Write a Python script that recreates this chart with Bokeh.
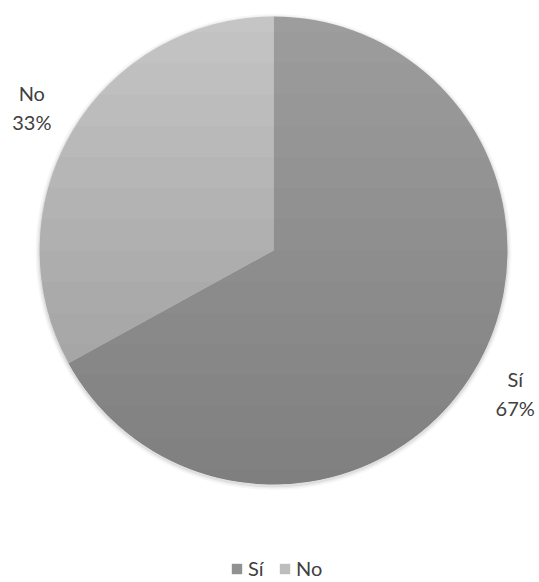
import numpy as np
from bokeh.plotting import figure
from bokeh.models import ColumnDataSource, Range1d, Legend, LegendItem
from bokeh.core.properties import value
from bokeh.embed import file_html
from bokeh.resources import INLINE

categories = ["Sí", "No"]
values = [67, 33]
colors = ["#9d9d9d", "#c5c5c5"]
legend_colors = ["#919191", "#bdbdbd"]

W, H = 539, 582
cx, cy, R = 273, 332, 234

vals = np.array(values, dtype=float)
frac = vals / vals.sum()
cum = np.concatenate([[0], np.cumsum(frac)])
start = np.pi / 2 - cum[:-1] * 2 * np.pi
end = np.pi / 2 - cum[1:] * 2 * np.pi
mid = (start + end) / 2

src = ColumnDataSource(dict(
    x=[cx] * len(vals), y=[cy] * len(vals),
    start=start, end=end, color=colors, cat=categories,
))

p = figure(width=W, height=H, output_backend="svg", toolbar_location=None,
           x_range=Range1d(0, W), y_range=Range1d(0, H), min_border=0)
p.axis.visible = False
p.grid.visible = False
p.outline_line_color = None
p.background_fill_color = "white"
p.border_fill_color = "white"

# faint soft shadow around the pie
for k, a in [(4, 0.03), (2.5, 0.04), (1.2, 0.06)]:
    p.circle(x=[cx], y=[cy - 1.5], radius=R + k, fill_color="black", fill_alpha=a, line_color=None)

p.wedge(x="x", y="y", radius=R, start_angle="end", end_angle="start",
        fill_color="color", line_color=None, source=src)

# vertical shading (light top, darker bottom)
n = 15
for i in range(n):
    h = R - (i + 0.5) * (2 * R / n)
    a = np.arcsin(np.clip(h / R, -1, 1))
    th = np.linspace(np.pi - a, 2 * np.pi + a, 160)
    p.patch(cx + R * np.cos(th), cy + R * np.sin(th), fill_color="black",
            fill_alpha=0.01, line_color=None)

lr = R * 1.2
labels = [f"{c}\n{round(f * 100)}%" for c, f in zip(categories, frac)]
p.text(x=cx + lr * np.cos(mid), y=cy + lr * np.sin(mid), text=labels,
       text_align="center", text_baseline="middle", text_color="#404040",
       text_font=value("Lato"), text_font_size="20px", text_line_height=1.22)

# legend swatches (off-screen markers so legend colours are flat)
lsrc = ColumnDataSource(dict(x=[-100] * len(vals), y=[-100] * len(vals), color=legend_colors))
lr_r = p.rect(x="x", y="y", width=1, height=1, fill_color="color", line_color=None, source=lsrc)

legend = Legend(items=[LegendItem(label=c, renderers=[lr_r], index=i) for i, c in enumerate(categories)],
                orientation="horizontal", location=(230, 2),
                glyph_width=13, glyph_height=13, label_standoff=5, spacing=10,
                label_height=20, padding=0, margin=0, border_line_color=None,
                background_fill_alpha=0,
                label_text_font="Lato", label_text_font_size="20px",
                label_text_color="#404040")
p.add_layout(legend)

open("out.html", "w").write(file_html(p, INLINE))
